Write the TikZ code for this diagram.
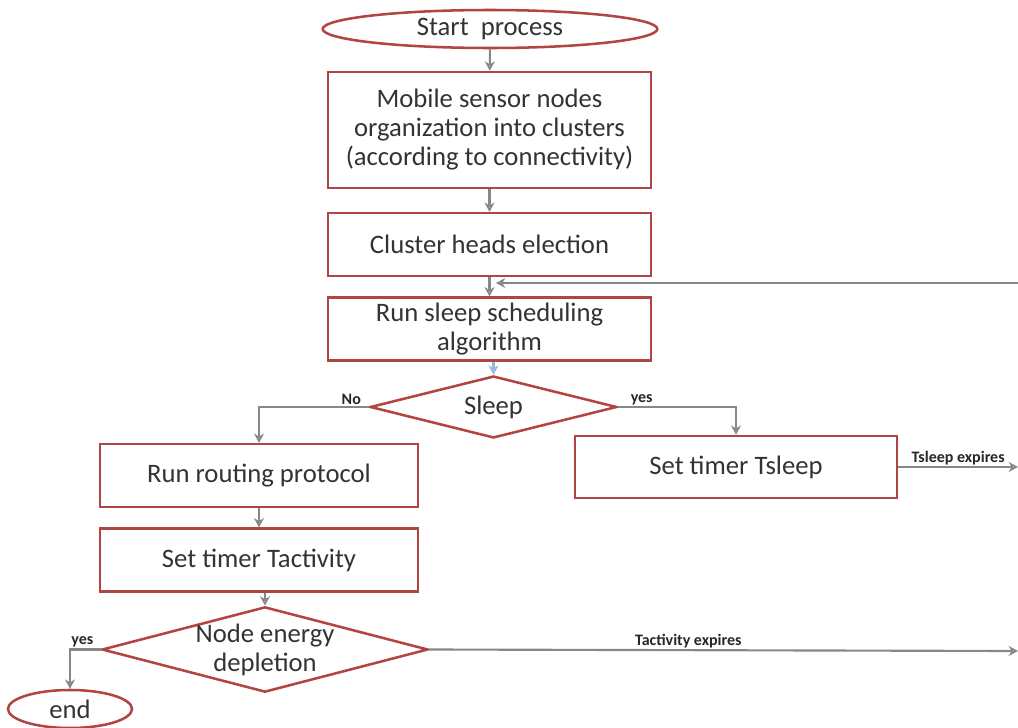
\documentclass[tikz,border=0pt]{standalone}
\usepackage{fontspec}
\setmainfont{Carlito}
\usetikzlibrary{shapes.geometric,arrows.meta}
\definecolor{boxred}{RGB}{178,68,68}
\definecolor{arrgrey}{RGB}{135,135,135}
\definecolor{lblue}{RGB}{150,185,225}
\tikzset{
  px/.style={x=0.75pt,y=-0.75pt},
  mainfont/.style={font=\fontsize{20}{21.75}\selectfont,text=black!80},
  procbox/.style={draw=boxred,line width=1.9pt,rectangle,inner sep=2pt,align=center,mainfont},
  termnode/.style={draw=boxred,line width=1.9pt,ellipse,inner sep=0pt,align=center,mainfont},
  decnode/.style={draw=boxred,line width=1.9pt,diamond,inner sep=0pt},
  dectext/.style={align=center,mainfont,inner sep=0pt},
  flow/.style={draw=arrgrey,line width=1.6pt,-{Stealth[length=7pt,width=7.5pt,open]}},
  smalllbl/.style={font=\fontsize{12}{13}\selectfont\bfseries,text=black!85,inner sep=1pt}
}
\begin{document}
\begin{tikzpicture}[px]
\useasboundingbox (0,0) rectangle (1018,728);
\node[termnode,minimum width=251pt,minimum height=28.5pt] (start) at (490,29) {Start\ \ process};
\node[procbox,minimum width=242pt,minimum height=87pt] (org) at (489.5,130) {\rule{0pt}{6pt}Mobile sensor nodes\\organization into clusters\\(according to connectivity)};
\node[procbox,minimum width=242pt,minimum height=47pt] (elect) at (489.5,244.5) {Cluster heads election};
\node[procbox,minimum width=242pt,minimum height=47pt] (sched) at (489.5,329) {Run sleep scheduling\\algorithm};
\node[decnode,minimum width=185pt,minimum height=46.5pt,
  label={[dectext]center:Sleep}] (sleep) at (493.5,407) {};
\node[procbox,minimum width=238.5pt,minimum height=47pt] (route) at (259,475.5) {Run routing protocol};
\node[procbox,minimum width=241.5pt,minimum height=46.5pt] (tsleep) at (736,467) {Set timer Tsleep};
\node[procbox,minimum width=238.5pt,minimum height=47pt] (tact) at (259,560) {Set timer Tactivity};
\node[decnode,minimum width=244.5pt,minimum height=64pt,
  label={[dectext]center:Node energy\\depletion}] (energy) at (265,649.5) {};
\node[termnode,minimum width=93pt,minimum height=28.5pt] (end) at (70,709) {end};

\coordinate (loopin) at (1018,283);
\coordinate (loopend) at (496,283);
\coordinate (tsout) at (1018,467);
\coordinate (taout) at (1018,651);

\draw[flow] (start) -- (org);
\draw[flow] (org) -- (elect);
\draw[flow] (elect) -- (sched);
\draw[flow] (loopin) -- (loopend);
\draw[flow,draw=lblue] (sched.south -| sleep.north) -- (sleep.north);
\draw[flow] (sleep.west) -| node[smalllbl,pos=0.08,above] {No} (route.north);
\draw[flow] (sleep.east) -| node[smalllbl,pos=0.1,above] {yes} (tsleep.north);
\draw[flow] (route) -- (tact);
\draw[flow] (tact.south -| energy.north) -- (energy.north);
\draw[flow] (energy.west) -| node[smalllbl,pos=0.3,above] {yes} (end.north);
\draw[flow] (tsleep.east) -- node[smalllbl,above,pos=0.5] {Tsleep expires} (tsout);
\draw[flow] (energy.east) -- node[smalllbl,above,pos=0.44] {Tactivity expires} (taout);
\end{tikzpicture}
\end{document}
